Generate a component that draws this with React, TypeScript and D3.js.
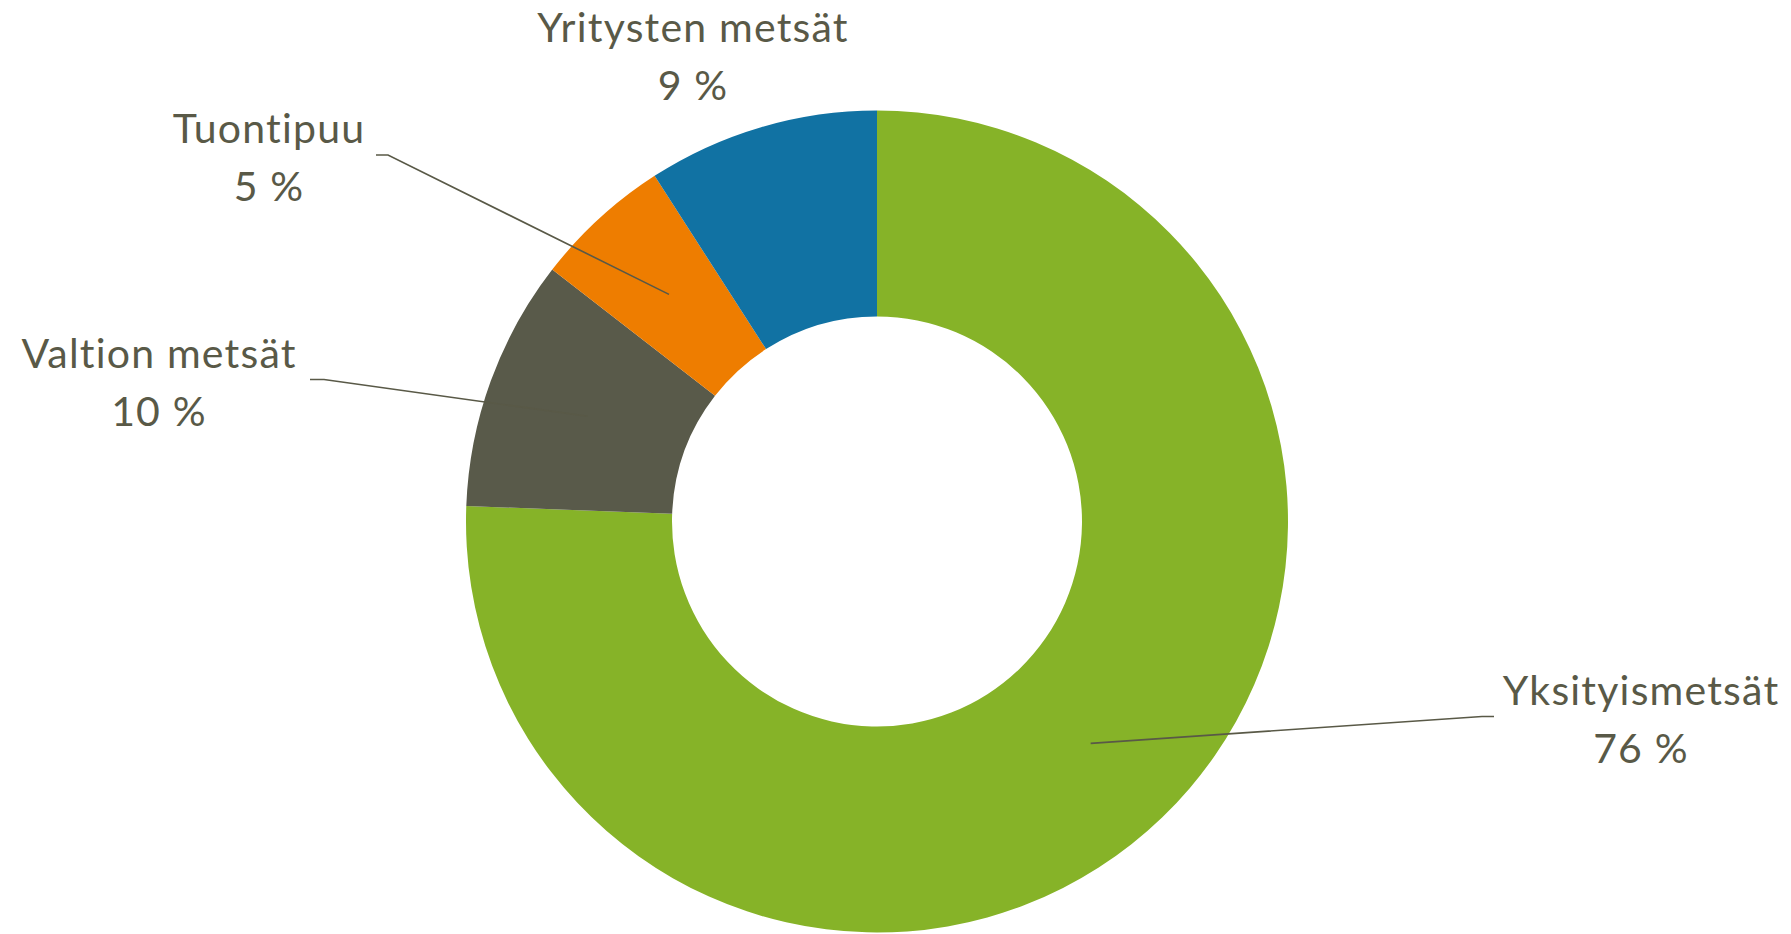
import React, { useEffect, useRef } from 'react';
import * as d3 from 'd3';

// slices in drawing order, clockwise from 12 o'clock
const categories = ['Yksityismetsät', 'Valtion metsät', 'Tuontipuu', 'Yritysten metsät'];
const shares = [75.6, 9.9, 5.4, 9.1];
const shareLabels = ['76 %', '10 %', '5 %', '9 %'];
const colors = ['#86B328', '#595A4A', '#EE7D00', '#1172A3'];

// label anchor (centre x, first baseline) and leader-line start, in page px
const labelAnchors = [
  { x: 1641, y: 705, lead: [1494, 1482] as number[] | null, leadY: 716.5 },
  { x: 159, y: 368, lead: [310, 324] as number[] | null, leadY: 379.5 },
  { x: 269, y: 143, lead: [376, 388] as number[] | null, leadY: 155 },
  { x: 693, y: 42, lead: null, leadY: 0 },
];

const App: React.FC = () => {
  const svgRef = useRef<SVGSVGElement>(null);

  useEffect(() => {
    if (!svgRef.current) return;
    const width = 1791;
    const height = 934;
    const cx = 877;
    const cy = 521.5;
    const outerR = 411;
    const innerR = 205;
    const textColor = '#595947';

    const svg = d3.select(svgRef.current);
    svg.selectAll('*').remove();
    svg.attr('width', width).attr('height', height);

    const pie = d3.pie<number>().sort(null).value((d) => d);
    const arcs = pie(shares);
    const arc = d3.arc<d3.PieArcDatum<number>>().innerRadius(innerR).outerRadius(outerR);

    const g = svg.append('g').attr('transform', `translate(${cx},${cy})`);
    g.selectAll('path')
      .data(arcs)
      .enter()
      .append('path')
      .attr('d', (d) => arc(d)!)
      .attr('fill', (_, i) => colors[i]);

    // leader lines
    arcs.forEach((d, i) => {
      const a = labelAnchors[i];
      if (!a.lead) return;
      const [mx, my] = arc.centroid(d);
      const pts: [number, number][] = [
        [a.lead[0], a.leadY],
        [a.lead[1], a.leadY],
        [mx + cx, my + cy],
      ];
      svg.append('path')
        .attr('d', d3.line()(pts)!)
        .attr('fill', 'none')
        .attr('stroke', textColor)
        .attr('stroke-width', 1.6);
    });

    // labels
    const lab = svg.append('g')
      .attr('font-family', 'Lato, "Open Sans", sans-serif')
      .attr('font-size', 41)
      .attr('letter-spacing', 1.2)
      .attr('fill', textColor)
      .attr('text-anchor', 'middle')
      .style('font-variant-ligatures', 'none')
      .style('font-feature-settings', '"liga" 0, "clig" 0');
    categories.forEach((c, i) => {
      const a = labelAnchors[i];
      lab.append('text').attr('x', a.x).attr('y', a.y).text(c);
      lab.append('text').attr('x', a.x).attr('y', a.y + 58).text(shareLabels[i]);
    });
  }, []);

  return (
    <svg ref={svgRef} style={{ position: 'absolute', left: 0, top: 0 }}></svg>
  );
};

export default App;
